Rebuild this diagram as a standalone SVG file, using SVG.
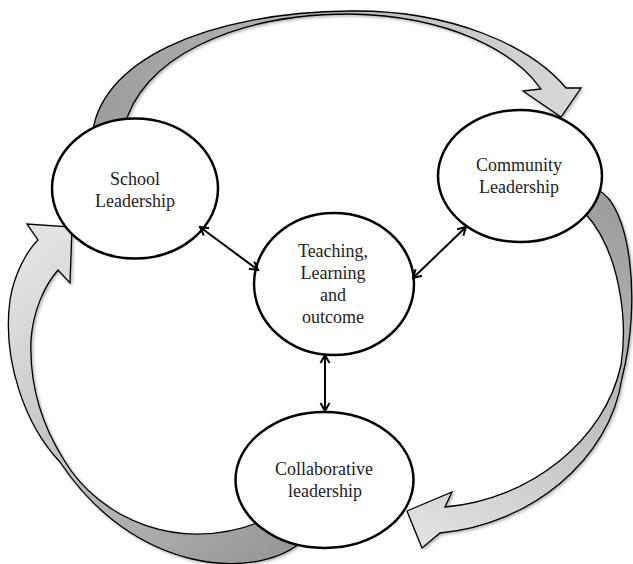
<svg xmlns="http://www.w3.org/2000/svg" width="633" height="564" viewBox="0 0 633 564">
<defs>
<style>
.node ellipse{fill:#fff;stroke:#000;stroke-width:2.5}
.node text{font-family:"Liberation Serif","Times New Roman",serif;font-size:18px;fill:#222;text-anchor:middle}
.band{stroke:#000;stroke-width:1.3;stroke-linejoin:miter}
.conn line{stroke:#000;stroke-width:2;marker-start:url(#v);marker-end:url(#v)}
</style>
<marker id="v" viewBox="0 0 12 12" refX="10" refY="6" markerWidth="12" markerHeight="12" markerUnits="userSpaceOnUse" orient="auto-start-reverse">
<polyline points="2,1.5 10,6 2,10.5" fill="none" stroke="#000" stroke-width="2"/>
</marker>
<linearGradient id="gTop" gradientUnits="userSpaceOnUse" x1="90" y1="100" x2="580" y2="110">
<stop offset="0" stop-color="#9c9c9c"/><stop offset="1" stop-color="#d8d8d8"/>
</linearGradient>
<linearGradient id="gRight" gradientUnits="userSpaceOnUse" x1="610" y1="200" x2="420" y2="530">
<stop offset="0" stop-color="#9c9c9c"/><stop offset="1" stop-color="#e0e0e0"/>
</linearGradient>
<linearGradient id="gLeft" gradientUnits="userSpaceOnUse" x1="290" y1="540" x2="40" y2="250">
<stop offset="0" stop-color="#989898"/><stop offset="1" stop-color="#e2e2e2"/>
</linearGradient>
<filter id="sh" x="-10%" y="-10%" width="120%" height="120%">
<feDropShadow dx="1.5" dy="1.5" stdDeviation="1.5" flood-color="#000" flood-opacity="0.3"/>
</filter>
</defs>
<rect width="633" height="564" fill="#fff"/>
<g id="cycle-arrows" filter="url(#sh)">
<path id="arrow-top" class="band" fill="url(#gTop)" d="M92,140 C95,60 210,12 351,11 C450,10 530,45 566,88 L581,88 L561,117 L523,91 L541,89 C515,52 450,16 351,14 C230,14 140,60 124,128 Z"/>
<path id="arrow-right" class="band" fill="url(#gRight)" d="M598,190 C630,205 642,300 622,378 C610,460 530,525 440,533 L422,548 L407,511 L452,492 L445,507 C530,500 605,440 621,365 C628,320 620,250 584,212 Z"/>
<path id="arrow-left" class="band" fill="url(#gLeft)" d="M300,543 C255,580 135,575 60,462 C25,425 2,360 10,300 C14,275 26,252 38,240 L27,224 L72,227 L70,283 L58,270 C45,285 33,310 31,340 C29,390 45,430 64,460 C100,520 180,555 265,520 Z"/>
</g>
<g id="school" class="node">
<ellipse cx="135" cy="188.5" rx="83" ry="70"/>
<text x="135" y="185">School</text>
<text x="135" y="207">Leadership</text>
</g>
<g id="community" class="node">
<ellipse cx="520" cy="176" rx="82" ry="66"/>
<text x="519" y="171">Community</text>
<text x="519" y="193">Leadership</text>
</g>
<g id="teaching" class="node">
<ellipse cx="334" cy="284" rx="80" ry="71"/>
<text x="333" y="257">Teaching,</text>
<text x="333" y="279">Learning</text>
<text x="333" y="301">and</text>
<text x="333" y="323">outcome</text>
</g>
<g id="collaborative" class="node">
<ellipse cx="324.5" cy="480" rx="89" ry="68"/>
<text x="324" y="475">Collaborative</text>
<text x="325" y="497">leadership</text>
</g>
<g id="connectors" class="conn">
<line x1="200" y1="227" x2="258" y2="270"/>
<line x1="466" y1="227" x2="413" y2="278"/>
<line x1="325" y1="355" x2="325" y2="411"/>
</g>
</svg>
